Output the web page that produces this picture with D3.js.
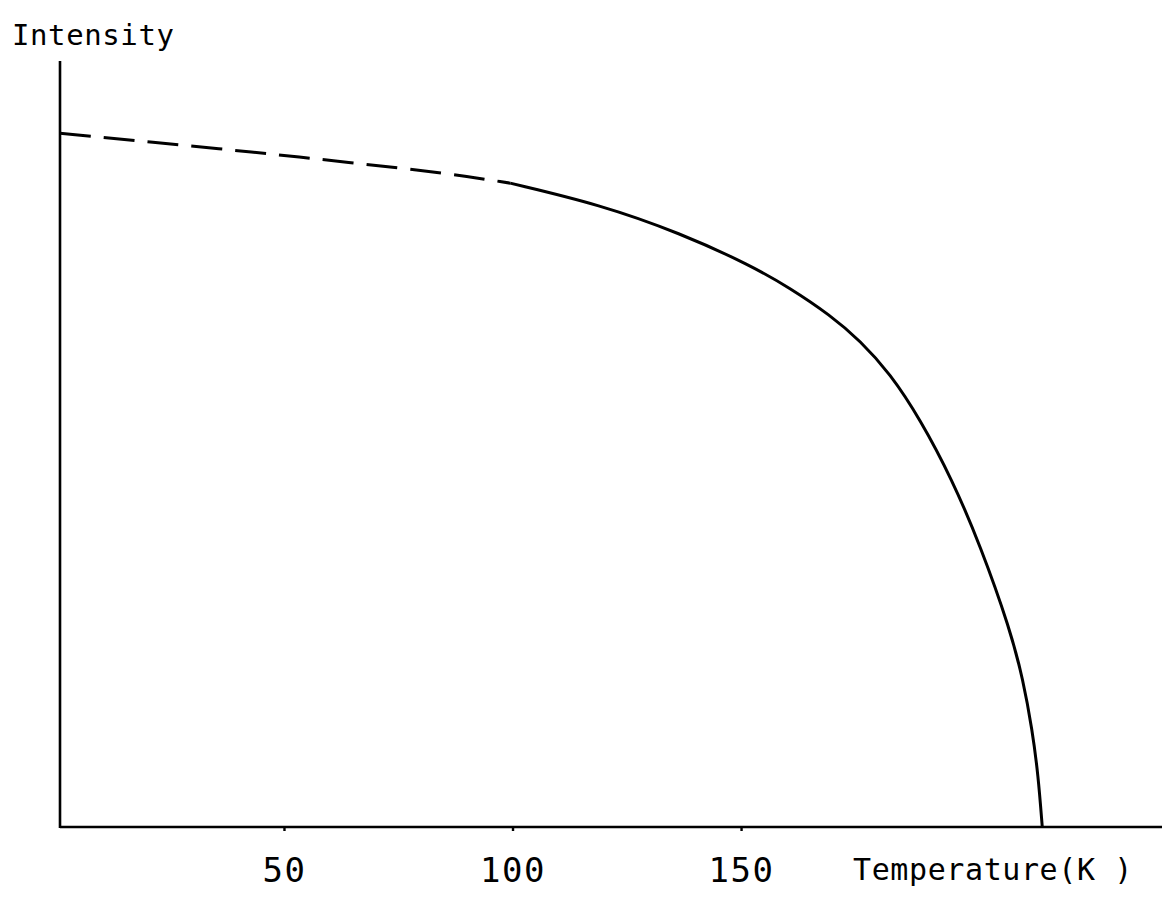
<!DOCTYPE html>
<html>
<head>
<meta charset="utf-8">
<script src="https://cdn.jsdelivr.net/npm/d3@7"></script>
<style>
  html, body { margin: 0; padding: 0; background: #fff; }
  svg { display: block; }
  .lbl { font-family: "DejaVu Sans Mono", monospace; fill: #000; }
</style>
</head>
<body>
<svg id="chart" width="1162" height="899"></svg>
<script>
// Temperature axis ticks (K)
const tickValues = [50, 100, 150];
const tickLabels = ["50", "100", "150"];

// Low-temperature extrapolation (dashed): temperature (K) and relative intensity
const extrapT = [1, 21, 43, 64, 86, 99.5];
const extrapI = [0.999, 0.986, 0.972, 0.957, 0.941, 0.927];

// Measured intensity (solid)
const measT = [99.5, 119.2, 136.7, 152.0, 160.7, 169.5, 176.1, 182.6, 189.2, 196.2, 202.3, 208.9, 211.7, 213.7, 215.0, 215.9];
const measI = [0.927, 0.896, 0.855, 0.809, 0.776, 0.737, 0.700, 0.653, 0.587, 0.500, 0.406, 0.284, 0.212, 0.140, 0.075, 0];

const svg = d3.select("#chart");

const x = d3.scaleLinear().domain([1, 241]).range([60, 1157]);
const y = d3.scaleLinear().domain([0, 1.1]).range([827, 63]);

// Axes
const axisG = svg.append("g");
axisG.append("line")
  .attr("x1", x(1)).attr("x2", 1162)
  .attr("y1", y(0)).attr("y2", y(0))
  .attr("stroke", "#000").attr("stroke-width", 2.6);
axisG.append("line")
  .attr("x1", x(1)).attr("x2", x(1))
  .attr("y1", y(0) + 1).attr("y2", 61)
  .attr("stroke", "#000").attr("stroke-width", 2.6);

const xAxis = d3.axisBottom(x)
  .tickValues(tickValues)
  .tickSize(4)
  .tickFormat((d, i) => tickLabels[i]);
const xg = svg.append("g")
  .attr("transform", `translate(0,${y(0)})`)
  .call(xAxis);
xg.select(".domain").remove();
xg.selectAll(".tick line").attr("stroke", "#000").attr("stroke-width", 2.4);
xg.selectAll(".tick text")
  .attr("class", "lbl")
  .attr("font-size", 34)
  .attr("letter-spacing", 1.5)
  .attr("dy", 0)
  .attr("y", 55)
  .attr("fill", "#000");

// Axis titles
svg.append("text").attr("class", "lbl")
  .attr("x", 12).attr("y", 45)
  .attr("font-size", 29)
  .attr("letter-spacing", 0.6)
  .text("Intensity");
svg.append("text").attr("class", "lbl")
  .attr("x", 853).attr("y", 880)
  .attr("font-size", 30)
  .attr("letter-spacing", 0.6)
  .text("Temperature(K )");

// Curves: smooth B-spline through the sampled intensities
const line = d3.line()
  .x(d => x(d[0]))
  .y(d => y(d[1]))
  .curve(d3.curveBasis);

const extrap = extrapT.map((t, i) => [t, extrapI[i]]);
const meas = measT.map((t, i) => [t, measI[i]]);

svg.append("path")
  .datum(extrap)
  .attr("d", line)
  .attr("fill", "none")
  .attr("stroke", "#000")
  .attr("stroke-width", 3)
  .attr("stroke-dasharray", "31,13");

svg.append("path")
  .datum(meas)
  .attr("d", line)
  .attr("fill", "none")
  .attr("stroke", "#000")
  .attr("stroke-width", 3);
</script>
</body>
</html>
